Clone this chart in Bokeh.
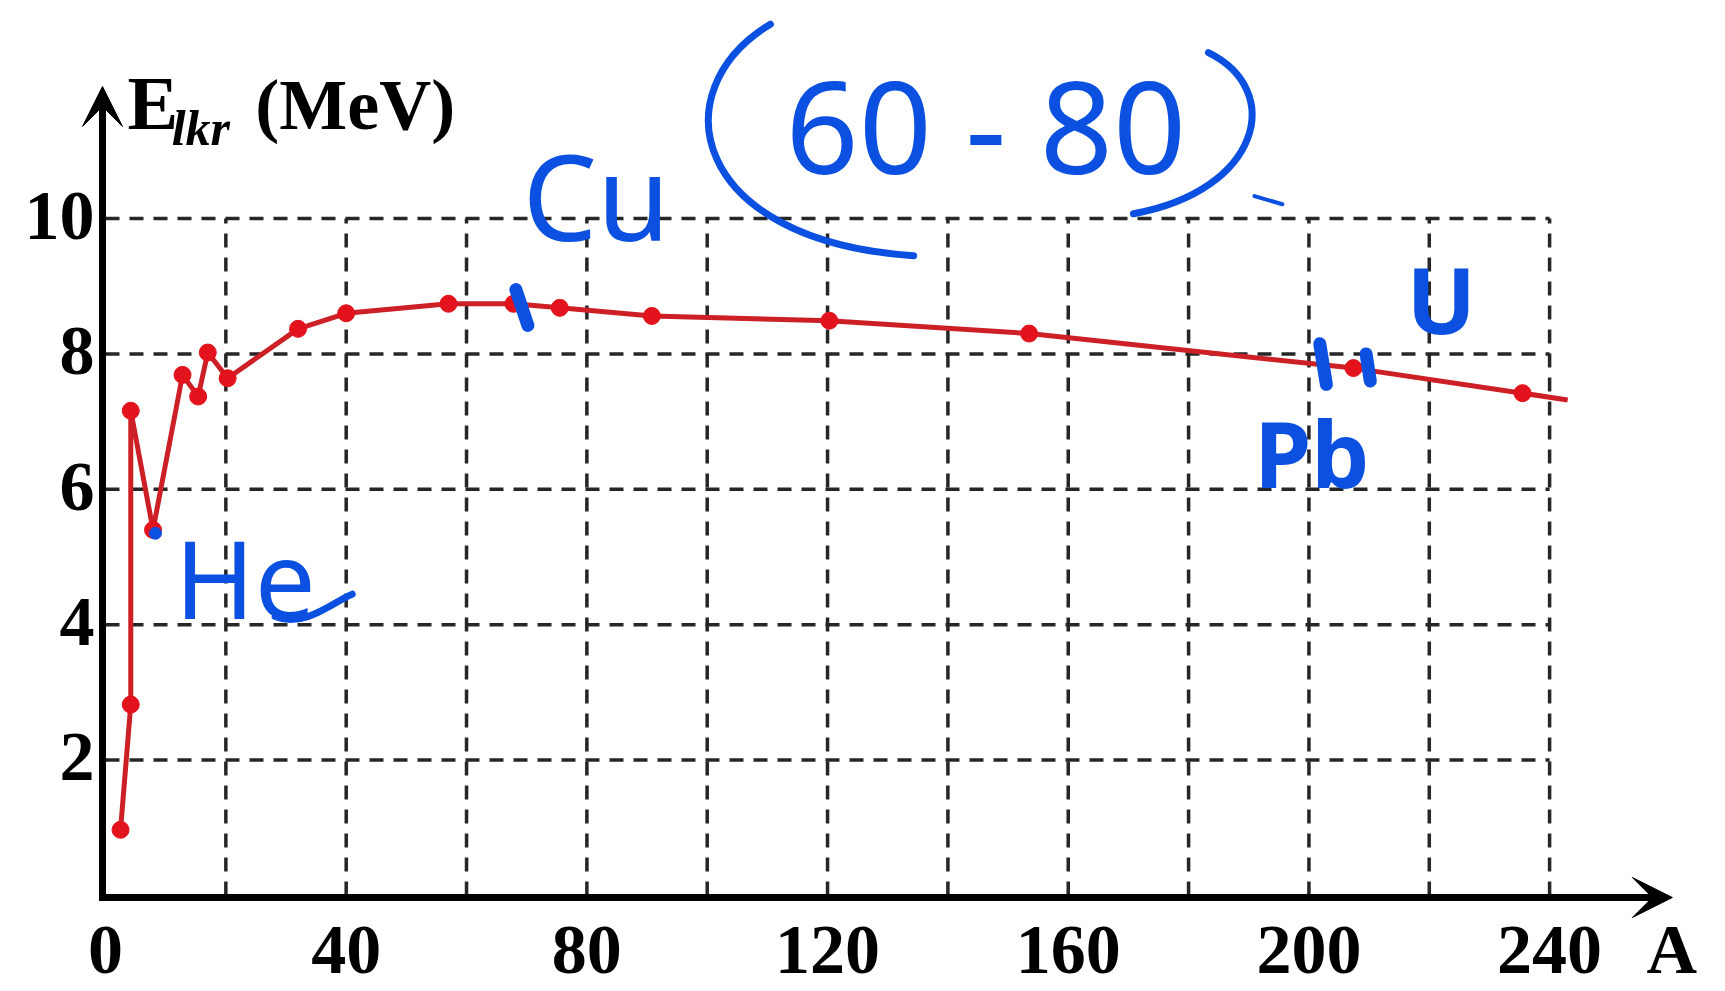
from bokeh.plotting import figure
from bokeh.models import Range1d, Arrow, VeeHead
from bokeh.core.properties import value
from bokeh.embed import file_html
from bokeh.resources import INLINE

# ---- data ----
A_points = [2.5, 4.2, 4.2, 7.9, 12.8, 15.4, 17.0, 20.3, 32.0, 40.0, 57.0, 67.8,
            75.5, 90.8, 120.3, 153.5, 207.4, 235.5]
E_points = [0.97, 2.82, 7.16, 5.40, 7.69, 7.37, 8.02, 7.64, 8.37, 8.60, 8.74, 8.74,
            8.68, 8.56, 8.49, 8.30, 7.79, 7.42]
curve_end_A = 243.0
curve_end_E = 7.32

x_ticks = [0, 40, 80, 120, 160, 200, 240]
x_tick_labels = ["0", "40", "80", "120", "160", "200", "240"]
y_ticks = [2, 4, 6, 8, 10]
y_tick_labels = ["2", "4", "6", "8", "10"]
x_grid = [20, 40, 60, 80, 100, 120, 140, 160, 180, 200, 220, 240]
y_grid = [2, 4, 6, 8, 10]
x_max, y_max = 240, 10

# handwritten annotations (blue)
note_text = ["Cu", "60 - 80", "He", "Pb", "U"]
note_x = [69.3, 146.3, 11.5, 190.9, 216.2]
note_y = [9.63, 10.62, 4.05, 5.98, 8.26]
note_size = [118, 128, 108, 92, 92]
note_align = ["left", "center", "left", "left", "left"]
note_bold = [False, False, False, True, True]

# short pen strokes on the curve (Cu, Pb, nearby)
stroke_x0 = [68.2, 201.8, 209.5]
stroke_y0 = [8.95, 8.15, 8.00]
stroke_x1 = [70.2, 202.9, 210.2]
stroke_y1 = [8.42, 7.55, 7.60]
dot_x = [8.3]
dot_y = [5.35]

# pen curves: left paren, right paren, He tail
curve_x0 = [110.5, 183.3, 28.2]
curve_y0 = [12.87, 12.45, 4.12]
curve_cx0 = [92.2, 196.1, 33.2]
curve_cy0 = [11.89, 11.89, 3.94]
curve_cx1 = [97.2, 191.95, 38.2]
curve_cy1 = [9.67, 10.41, 4.36]
curve_x1 = [134.3, 170.85, 41.0]
curve_y1 = [9.45, 10.07, 4.45]
tick_x = [190.96, 195.6]
tick_y = [10.33, 10.21]

BLUE = "#0b50e0"
RED_LINE = "#cc1f26"
RED_DOT = "#e3131d"
SERIF = value("Liberation Serif")
SHIFT = 0.41  # baseline correction (fraction of font size)

p = figure(width=1720, height=988,
           x_range=Range1d(-17.45, 268.4), y_range=Range1d(-1.374, 13.22),
           output_backend="svg", toolbar_location=None, min_border=0,
           outline_line_color=None, background_fill_color="white")
p.axis.visible = False
p.grid.visible = False


def txt(x, y, t, size, color="black", font=SERIF, style="bold", align="left", dy=0):
    p.text(x=x, y=y, text=t, text_font=font, text_font_size=f"{size}px",
           text_font_style=style, text_align=align, text_baseline="alphabetic",
           text_color=color, y_offset=dy - SHIFT * size)


# dashed grid
p.segment(x0=[0] * len(y_grid), y0=y_grid, x1=[x_max] * len(y_grid), y1=y_grid,
          line_color="#262626", line_width=3.5, line_dash="14 10")
p.segment(x0=x_grid, y0=[0] * len(x_grid), x1=x_grid, y1=[y_max] * len(x_grid),
          line_color="#262626", line_width=3.5, line_dash="14 10")

# axes with arrows
p.add_layout(Arrow(end=VeeHead(size=40, fill_color="black", line_color="black"),
                   x_start=-0.5, y_start=-0.08, x_end=-0.5, y_end=11.95,
                   line_width=7, line_color="black"))
p.add_layout(Arrow(end=VeeHead(size=40, fill_color="black", line_color="black"),
                   x_start=-1.0, y_start=-0.03, x_end=260.4, y_end=-0.03,
                   line_width=7, line_color="black"))

# curve
p.line(A_points + [curve_end_A], E_points + [curve_end_E],
       line_color=RED_LINE, line_width=5)
p.scatter(A_points, E_points, size=17, fill_color=RED_DOT, line_color=RED_DOT)

# tick labels
txt(x_ticks, [-1.226] * len(x_ticks), x_tick_labels, 70, align="center")
txt([-1.83] * len(y_ticks), y_ticks, y_tick_labels, 70, align="right", dy=26)

# axis names
txt([260.3], [-1.226], ["A"], 70, align="center")
txt([3.66], [11.24], ["E"], 76)
txt([11.0], [11.03], ["lkr"], 50, style="bold italic")
txt([24.9], [11.24], ["(MeV)"], 72)

# handwritten notes
for t, x, y, s, a, b in zip(note_text, note_x, note_y, note_size, note_align, note_bold):
    txt([x], [y], [t], s, color=BLUE, font=value("Noto Sans"),
        style="bold" if b else "normal", align=a)

p.bezier(x0=curve_x0, y0=curve_y0, x1=curve_x1, y1=curve_y1,
         cx0=curve_cx0, cy0=curve_cy0, cx1=curve_cx1, cy1=curve_cy1,
         line_color=BLUE, line_width=7, line_cap="round")
p.line(tick_x, tick_y, line_color=BLUE, line_width=4, line_cap="round")
p.segment(x0=stroke_x0, y0=stroke_y0, x1=stroke_x1, y1=stroke_y1,
          line_color=BLUE, line_width=13, line_cap="round")
p.scatter(dot_x, dot_y, size=12, fill_color=BLUE, line_color=BLUE)

open("out.html", "w").write(file_html(p, INLINE))
